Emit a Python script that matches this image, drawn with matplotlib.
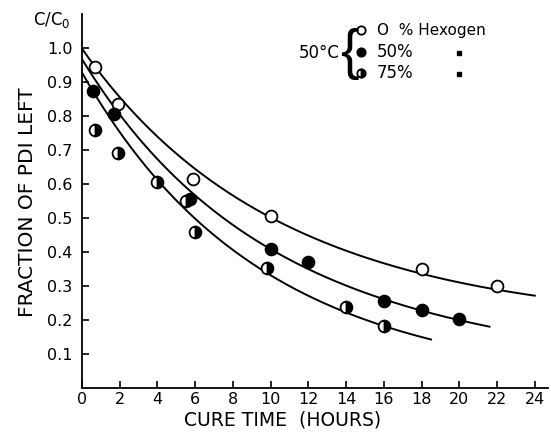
import numpy as np
import matplotlib.pyplot as plt

# cure time (hours) and fraction of PDI left
t_0 = [0.7, 1.9, 5.9, 10, 18, 22]
c_0 = [0.945, 0.835, 0.615, 0.505, 0.35, 0.30]

t_50 = [0.6, 1.7, 5.7, 10, 12, 16, 18, 20]
c_50 = [0.875, 0.805, 0.555, 0.41, 0.37, 0.255, 0.228, 0.203]

t_75 = [0.7, 1.9, 4.0, 5.5, 6.0, 9.8, 14, 16]
c_75 = [0.76, 0.69, 0.607, 0.55, 0.458, 0.353, 0.237, 0.183]

# drawn curves: value at t=0, end time and end value
start_0, end_0, last_0 = 1.0, 24.0, 0.27
start_50, end_50, last_50 = 0.97, 21.6, 0.18
start_75, end_75, last_75 = 0.935, 18.5, 0.142

xticks = [0, 2, 4, 6, 8, 10, 12, 14, 16, 18, 20, 22, 24]
yticks = [0.1, 0.2, 0.3, 0.4, 0.5, 0.6, 0.7, 0.8, 0.9, 1.0]

plt.rcParams['font.family'] = 'DejaVu Sans'
fig = plt.figure(figsize=(5.51, 4.34), dpi=100)
ax = fig.add_axes([82/551, 1-388/434, (548-82)/551, (388-14)/434])


def fit_curve(t, c, c0, tend, cend):
    # smooth decay curve through the points (log-quadratic fit)
    tt = np.concatenate([[0], t, [tend]])
    cc = np.concatenate([[c0], c, [cend]])
    w = np.ones(len(tt))
    w[0] = 5
    w[-1] = 3
    p = np.polyfit(tt, np.log(cc), 2, w=w)
    x = np.linspace(0, tend, 200)
    return x, np.exp(np.polyval(p, x))


for t, c, c0, te, ce in [(t_0, c_0, start_0, end_0, last_0),
                         (t_50, c_50, start_50, end_50, last_50),
                         (t_75, c_75, start_75, end_75, last_75)]:
    x, y = fit_curve(t, c, c0, te, ce)
    ax.plot(x, y, color='black', lw=1.4, zorder=1)

ms = 8.5
ax.plot(t_0, c_0, 'o', ms=ms, mfc='white', mec='black', mew=1.3, zorder=3)
ax.plot(t_50, c_50, 'o', ms=ms, mfc='black', mec='black', mew=1.3, zorder=3)
ax.plot(t_75, c_75, 'o', ms=ms, fillstyle='right', mfc='black',
        markerfacecoloralt='white', mec='black', mew=1.3, zorder=3)

ax.set_xlim(0, 24.7)
ax.set_ylim(0, 1.1)
ax.set_xticks(xticks)
ax.set_yticks(yticks)
ax.set_xticklabels([str(v) for v in xticks])
ax.set_yticklabels(['%.1f' % v for v in yticks])
ax.tick_params(direction='in', length=5, width=1.2, labelsize=11.5)
ax.tick_params(axis='x', pad=3)
ax.tick_params(axis='y', pad=7)
for s in ['top', 'right']:
    ax.spines[s].set_visible(False)
for s in ['left', 'bottom']:
    ax.spines[s].set_linewidth(1.3)

fig.text(283/551, 1-420/434, 'CURE TIME  (HOURS)', ha='center', va='center',
         fontsize=13.5)
fig.text(28/551, 1-202/434, 'FRACTION OF PDI LEFT', ha='center', va='center',
         rotation=90, fontsize=14.5)
fig.text(52/551, 1-20/434, 'C/C$_0$', ha='center', va='center', fontsize=12)

# legend block
fy = [30, 52, 73]
fig.text(340/551, 1-53/434, '50°C', ha='right', va='center', fontsize=12)
fig.text(349/551, 1-54/434, '{', ha='center', va='center', fontsize=40,
         family='Liberation Sans')
lax = fig.add_axes([0, 0, 1, 1], facecolor='none')
lax.set_xlim(0, 551)
lax.set_ylim(434, 0)
lax.axis('off')
lax.plot(361, fy[0], 'o', ms=6, mfc='white', mec='black', mew=1.3)
lax.plot(361, fy[1], 'o', ms=6, mfc='black', mec='black', mew=1.3)
lax.plot(361, fy[2], 'o', ms=6, fillstyle='right', mfc='black',
         markerfacecoloralt='white', mec='black', mew=1.3)
fig.text(377/551, 1-fy[0]/434, 'O  % Hexogen', ha='left', va='center',
         fontsize=11)
fig.text(377/551, 1-fy[1]/434, '50%', ha='left', va='center', fontsize=12)
fig.text(377/551, 1-fy[2]/434, '75%', ha='left', va='center', fontsize=12)
lax.plot(459, fy[1] + 1, 's', ms=3.5, color='black')
lax.plot(459, fy[2] + 1, 's', ms=3, color='black')

fig.savefig('out.png', dpi=100)
